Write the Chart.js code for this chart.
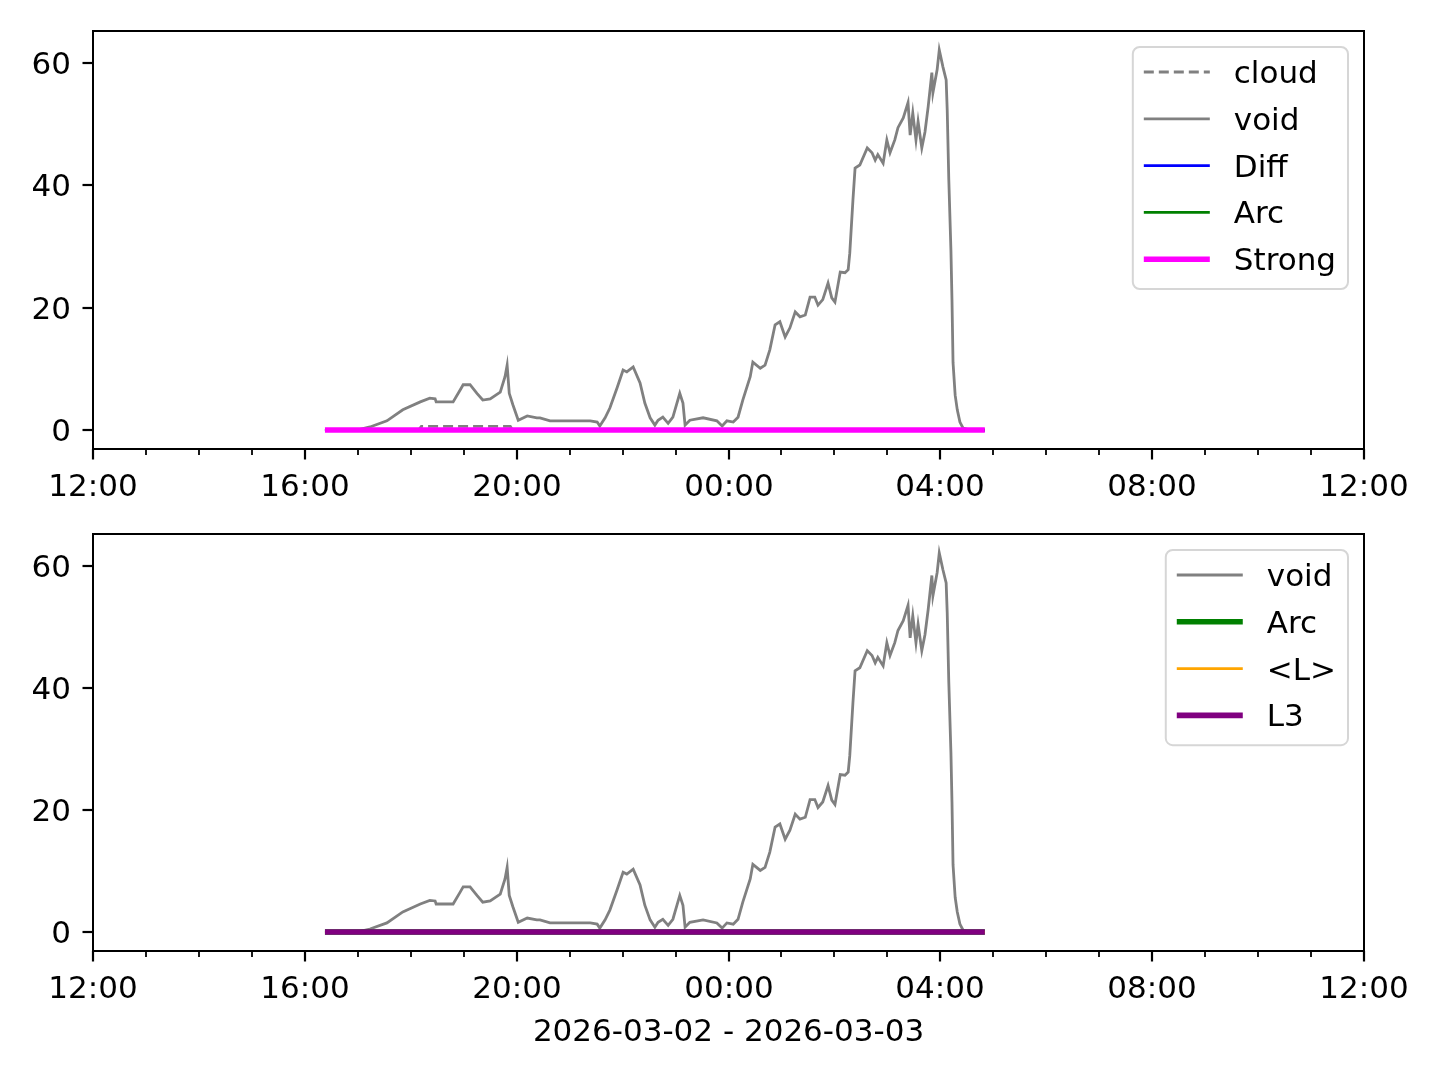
<!DOCTYPE html>
<html>
<head>
<meta charset="utf-8">
<script src="https://cdn.jsdelivr.net/npm/chart.js@4.4.1/dist/chart.umd.min.js"></script>
<style>
  html, body { margin: 0; padding: 0; background: #fff; }
  #wrap { position: relative; width: 1440px; height: 1080px; }
  canvas { position: absolute; left: 0; }
  #top { top: 0; }
  #bottom { top: 500px; }
</style>
</head>
<body>
<div id="wrap">
  <canvas id="top" width="1440" height="500"></canvas>
  <canvas id="bottom" width="1440" height="580"></canvas>
</div>
<script>
/* global Chart */

// hours after 12:00 on 2026-03-02
const voidHours = [
  4.38, 4.76, 5.04, 5.23, 5.55, 5.85, 6.18, 6.36, 6.46, 6.48, 6.80, 6.93, 6.99, 7.12, 7.25, 7.36,
  7.50, 7.69, 7.78, 7.82, 7.86, 7.93, 8.03, 8.20, 8.38, 8.44, 8.63, 9.39, 9.52, 9.57, 9.67, 9.76,
  9.90, 10.01, 10.08, 10.20, 10.33, 10.42, 10.52, 10.61, 10.67, 10.76, 10.86, 10.95, 11.08, 11.14,
  11.18, 11.27, 11.52, 11.78, 11.88, 11.97, 12.09, 12.18, 12.27, 12.41, 12.46, 12.60, 12.69, 12.78,
  12.88, 12.97, 13.07, 13.16, 13.26, 13.35, 13.45, 13.54, 13.63, 13.69, 13.78, 13.88, 13.95, 14.01,
  14.11, 14.20, 14.26, 14.29, 14.35, 14.39, 14.48, 14.62, 14.71, 14.77, 14.82, 14.92, 14.99, 15.05,
  15.14, 15.20, 15.30, 15.39, 15.43, 15.48, 15.54, 15.58, 15.65, 15.71, 15.77, 15.84, 15.86, 15.94,
  15.98, 16.05, 16.11, 16.13, 16.16, 16.20, 16.22, 16.24, 16.28, 16.32, 16.37, 16.43, 16.56, 16.84
];
const voidValues = [
  0.0, 0.1, 0.1, 0.5, 1.5, 3.3, 4.6, 5.2, 5.1, 4.6, 4.6, 6.5, 7.4, 7.4, 6.0, 4.9,
  5.1, 6.2, 8.7, 10.6, 6.0, 4.1, 1.6, 2.3, 2.0, 2.0, 1.5, 1.5, 1.3, 0.65, 2.0, 3.6,
  7.0, 9.8, 9.5, 10.3, 7.7, 4.4, 2.0, 0.8, 1.6, 2.1, 1.1, 2.1, 6.0, 4.4,
  0.8, 1.6, 2.0, 1.5, 0.65, 1.5, 1.3, 2.1, 4.9, 8.7, 11.1, 10.1, 10.6, 13.1,
  17.2, 17.7, 15.2, 16.7, 19.3, 18.5, 18.8, 21.7, 21.7, 20.4, 21.3, 24.0, 21.6, 20.9,
  25.8, 25.7, 26.2, 28.9, 37.6, 42.8, 43.3, 46.1, 45.3, 44.1, 45.0, 43.6, 47.4, 45.3,
  47.4, 49.4, 51.0, 53.5, 48.2, 51.8, 47.4, 50.4, 46.1, 48.7, 52.8, 58.4, 55.1, 58.9,
  62.1, 59.3, 57.2, 52.3, 40.9, 29.4, 21.3, 11.0, 5.7, 3.3, 1.3, 0.3, 0.0, 0.0
];
const cloudHours = [4.38, 6.15, 6.2, 7.88, 7.92, 16.84];
const cloudValues = [0, 0, 0.6, 0.6, 0, 0];
const runHours = [4.38, 16.84];
const zeroValues = [0, 0];

const xTickHours = [0, 4, 8, 12, 16, 20, 24];
const xTickLabels = ['12:00', '16:00', '20:00', '00:00', '04:00', '08:00', '12:00'];
const yTickValues = [0, 20, 40, 60];
const yTickLabels = ['0', '20', '40', '60'];
const dateLabel = '2026-03-02 - 2026-03-03';

const FONT = '31px "DejaVu Sans"';
const GRAY = '#808080';

function series(label, xs, ys, color, width, dash) {
  return {
    label,
    data: xs.map((h, i) => ({ x: h, y: ys[i] })),
    borderColor: color,
    backgroundColor: color,
    borderWidth: width,
    borderDash: dash || [],
    pointRadius: 0,
    tension: 0,
    fill: false
  };
}

function drawLegend(ctx, a, items) {
  ctx.font = FONT;
  const tw = Math.max(...items.map((it) => ctx.measureText(it.label).width));
  const rowH = 46.8;
  const w = 11 + 66 + 24 + tw + 12;
  const h = items.length * rowH + 8;
  const x0 = a.right - 16 - w;
  const y0 = a.top + 16;
  ctx.beginPath();
  ctx.roundRect(x0, y0, w, h, 7);
  ctx.fillStyle = 'rgba(255,255,255,0.8)';
  ctx.fill();
  ctx.strokeStyle = '#d6d6d6';
  ctx.lineWidth = 2;
  ctx.stroke();
  items.forEach((it, i) => {
    const cy = y0 + 25 + i * rowH;
    ctx.beginPath();
    ctx.setLineDash(it.dash || []);
    ctx.strokeStyle = it.color;
    ctx.lineWidth = it.width;
    ctx.moveTo(x0 + 11, cy);
    ctx.lineTo(x0 + 77, cy);
    ctx.stroke();
    ctx.setLineDash([]);
    ctx.fillStyle = '#000';
    ctx.textAlign = 'left';
    ctx.textBaseline = 'alphabetic';
    ctx.fillText(it.label, x0 + 101, cy + 11);
  });
}

const mplAxes = {
  id: 'mplAxes',
  afterDraw(chart, args, opts) {
    const { ctx, chartArea: a } = chart;
    const x = chart.scales.x;
    const y = chart.scales.y;
    ctx.save();
    ctx.strokeStyle = '#000';
    ctx.fillStyle = '#000';
    ctx.font = FONT;

    // minor x ticks every hour
    ctx.lineWidth = 1.8;
    for (let hr = 0; hr <= 24; hr++) {
      if (hr % 4 === 0) continue;
      const px = Math.round(x.getPixelForValue(hr));
      ctx.beginPath();
      ctx.moveTo(px, a.bottom);
      ctx.lineTo(px, a.bottom + 6);
      ctx.stroke();
    }
    // major x ticks + labels
    ctx.lineWidth = 2.2;
    ctx.textAlign = 'center';
    ctx.textBaseline = 'alphabetic';
    xTickHours.forEach((hr, i) => {
      const px = Math.round(x.getPixelForValue(hr));
      ctx.beginPath();
      ctx.moveTo(px, a.bottom);
      ctx.lineTo(px, a.bottom + 10.5);
      ctx.stroke();
      ctx.fillText(xTickLabels[i], px, a.bottom + 47);
    });
    // y ticks + labels
    ctx.textAlign = 'right';
    yTickValues.forEach((v, i) => {
      const py = Math.round(y.getPixelForValue(v));
      ctx.beginPath();
      ctx.moveTo(a.left, py);
      ctx.lineTo(a.left - 10.5, py);
      ctx.stroke();
      ctx.fillText(yTickLabels[i], a.left - 22, py + 11);
    });
    // frame
    ctx.lineWidth = 2;
    ctx.strokeRect(a.left, a.top, a.right - a.left, a.bottom - a.top);

    if (opts.xTitle) {
      ctx.textAlign = 'center';
      ctx.fillText(opts.xTitle, (a.left + a.right) / 2, a.bottom + 90);
    }
    drawLegend(ctx, a, opts.items);
    ctx.restore();
  }
};

function makeChart(id, datasets, padding, items, xTitle) {
  datasets.forEach((d, i) => { d.order = datasets.length - i; });
  return new Chart(document.getElementById(id), {
    type: 'line',
    data: { datasets },
    options: {
      responsive: false,
      devicePixelRatio: 1,
      animation: false,
      parsing: true,
      layout: { padding },
      scales: {
        x: { type: 'linear', min: 0, max: 24, display: false },
        y: { type: 'linear', min: -3.1, max: 65.2, display: false }
      },
      plugins: {
        legend: { display: false },
        tooltip: { enabled: false },
        mplAxes: { items, xTitle }
      }
    },
    plugins: [mplAxes]
  });
}

makeChart('top', [
  series('cloud', cloudHours, cloudValues, GRAY, 2.8, [10, 5]),
  series('void', voidHours, voidValues, GRAY, 2.8),
  series('Diff', runHours, zeroValues, '#0000ff', 2.8),
  series('Arc', runHours, zeroValues, '#008000', 2.8),
  series('Strong', runHours, zeroValues, '#ff00ff', 5.6)
], { left: 93, right: 76, top: 31, bottom: 51 }, [
  { label: 'cloud', color: GRAY, width: 2.8, dash: [10, 5] },
  { label: 'void', color: GRAY, width: 2.8 },
  { label: 'Diff', color: '#0000ff', width: 2.8 },
  { label: 'Arc', color: '#008000', width: 2.8 },
  { label: 'Strong', color: '#ff00ff', width: 5.6 }
]);

makeChart('bottom', [
  series('void', voidHours, voidValues, GRAY, 2.8),
  series('Arc', runHours, zeroValues, '#008000', 5.6),
  series('<L>', runHours, zeroValues, '#ffa500', 2.8),
  series('L3', runHours, zeroValues, '#800080', 5.6)
], { left: 93, right: 76, top: 34, bottom: 129 }, [
  { label: 'void', color: GRAY, width: 2.8 },
  { label: 'Arc', color: '#008000', width: 5.6 },
  { label: '<L>', color: '#ffa500', width: 2.8 },
  { label: 'L3', color: '#800080', width: 5.6 }
], dateLabel);
</script>
</body>
</html>
